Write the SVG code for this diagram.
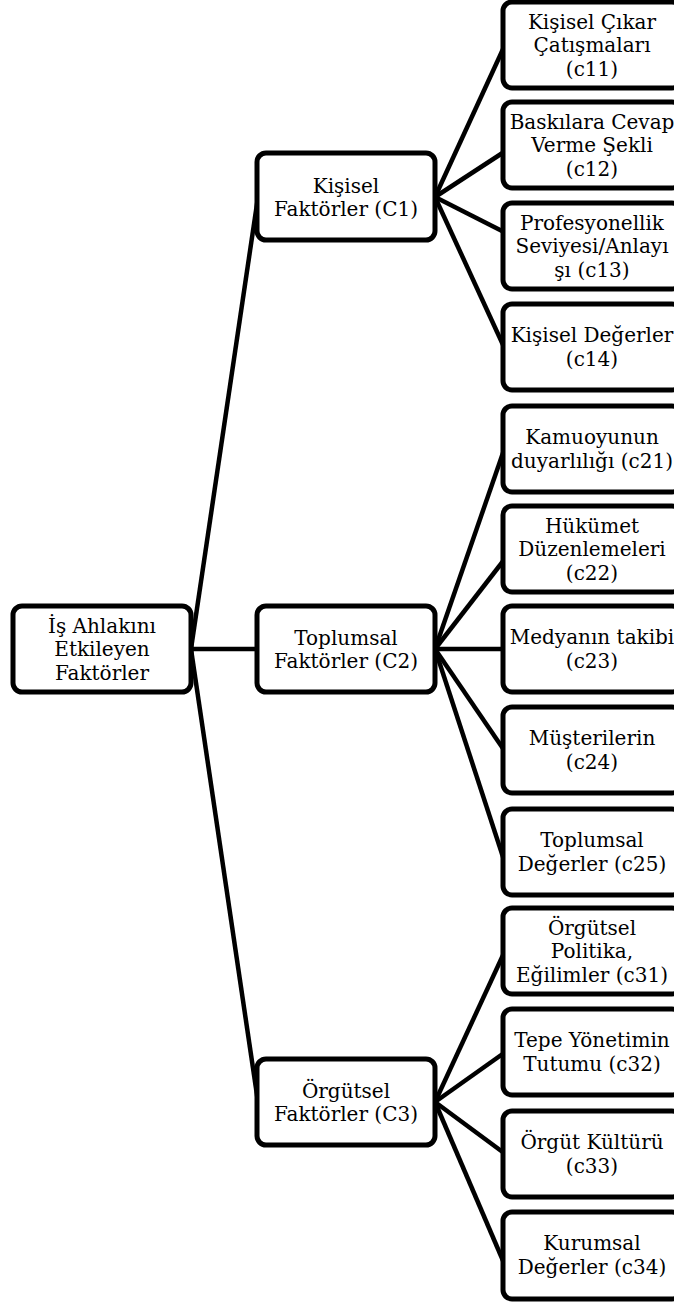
<svg xmlns="http://www.w3.org/2000/svg" width="674" height="1302" viewBox="0 0 674 1302">
<style>
.box{fill:#fff;stroke:#000;stroke-width:5}
.c line{stroke:#000;stroke-width:4.5}
text{font-family:"DejaVu Serif","Liberation Serif",serif;font-size:20px;fill:#000;text-anchor:middle}
</style>
<rect width="674" height="1302" fill="#fff"/>
<g id="connectors" class="c">
<line x1="191" y1="649" x2="258" y2="197"/>
<line x1="191" y1="649" x2="258" y2="649"/>
<line x1="191" y1="649" x2="258" y2="1102"/>
<line x1="435" y1="197" x2="504" y2="47"/>
<line x1="435" y1="197" x2="504" y2="152"/>
<line x1="435" y1="197" x2="504" y2="232"/>
<line x1="435" y1="197" x2="504" y2="347"/>
<line x1="435" y1="649" x2="504" y2="450"/>
<line x1="435" y1="649" x2="504" y2="560"/>
<line x1="435" y1="649" x2="504" y2="649"/>
<line x1="435" y1="649" x2="504" y2="750"/>
<line x1="435" y1="649" x2="504" y2="860"/>
<line x1="435" y1="1102" x2="504" y2="953"/>
<line x1="435" y1="1102" x2="504" y2="1053"/>
<line x1="435" y1="1102" x2="504" y2="1153"/>
<line x1="435" y1="1102" x2="504" y2="1263"/>
</g>
<g id="root"><rect class="box" x="13" y="606" width="178" height="86" rx="9"/><text><tspan x="102" y="632.5">İş Ahlakını</tspan><tspan x="102" y="656">Etkileyen</tspan><tspan x="102" y="679.5">Faktörler</tspan></text></g>
<g id="C1"><rect class="box" x="257" y="153" width="178" height="87" rx="9"/><text><tspan x="346" y="192.5">Kişisel</tspan><tspan x="346" y="216">Faktörler (C1)</tspan></text></g>
<g id="C2"><rect class="box" x="257" y="606" width="178" height="86" rx="9"/><text><tspan x="346" y="644.5">Toplumsal</tspan><tspan x="346" y="668">Faktörler (C2)</tspan></text></g>
<g id="C3"><rect class="box" x="257" y="1059" width="178" height="86" rx="9"/><text><tspan x="346" y="1097.5">Örgütsel</tspan><tspan x="346" y="1121">Faktörler (C3)</tspan></text></g>
<g id="c11"><rect class="box" x="503" y="2" width="178" height="86" rx="9"/><text><tspan x="592" y="28.5">Kişisel Çıkar</tspan><tspan x="592" y="52">Çatışmaları</tspan><tspan x="592" y="75.5">(c11)</tspan></text></g>
<g id="c12"><rect class="box" x="503" y="102" width="178" height="86" rx="9"/><text><tspan x="592" y="128.5">Baskılara Cevap</tspan><tspan x="592" y="152">Verme Şekli</tspan><tspan x="592" y="175.5">(c12)</tspan></text></g>
<g id="c13"><rect class="box" x="503" y="203" width="178" height="86" rx="9"/><text><tspan x="592" y="229.5">Profesyonellik</tspan><tspan x="592" y="253">Seviyesi/Anlayı</tspan><tspan x="592" y="276.5">şı (c13)</tspan></text></g>
<g id="c14"><rect class="box" x="503" y="304" width="178" height="86" rx="9"/><text><tspan x="592" y="342.25">Kişisel Değerler</tspan><tspan x="592" y="365.75">(c14)</tspan></text></g>
<g id="c21"><rect class="box" x="503" y="406" width="178" height="86" rx="9"/><text><tspan x="592" y="444.25">Kamuoyunun</tspan><tspan x="592" y="467.75">duyarlılığı (c21)</tspan></text></g>
<g id="c22"><rect class="box" x="503" y="506" width="178" height="86" rx="9"/><text><tspan x="592" y="532.5">Hükümet</tspan><tspan x="592" y="556">Düzenlemeleri</tspan><tspan x="592" y="579.5">(c22)</tspan></text></g>
<g id="c23"><rect class="box" x="503" y="606" width="178" height="86" rx="9"/><text><tspan x="592" y="644.25">Medyanın takibi</tspan><tspan x="592" y="667.75">(c23)</tspan></text></g>
<g id="c24"><rect class="box" x="503" y="707" width="178" height="86" rx="9"/><text><tspan x="592" y="745.25">Müşterilerin</tspan><tspan x="592" y="768.75">(c24)</tspan></text></g>
<g id="c25"><rect class="box" x="503" y="809" width="178" height="86" rx="9"/><text><tspan x="592" y="847.25">Toplumsal</tspan><tspan x="592" y="870.75">Değerler (c25)</tspan></text></g>
<g id="c31"><rect class="box" x="503" y="908" width="178" height="86" rx="9"/><text><tspan x="592" y="934.5">Örgütsel</tspan><tspan x="592" y="958">Politika,</tspan><tspan x="592" y="981.5">Eğilimler (c31)</tspan></text></g>
<g id="c32"><rect class="box" x="503" y="1009" width="178" height="86" rx="9"/><text><tspan x="592" y="1047.25">Tepe Yönetimin</tspan><tspan x="592" y="1070.75">Tutumu (c32)</tspan></text></g>
<g id="c33"><rect class="box" x="503" y="1111" width="178" height="86" rx="9"/><text><tspan x="592" y="1149.25">Örgüt Kültürü</tspan><tspan x="592" y="1172.75">(c33)</tspan></text></g>
<g id="c34"><rect class="box" x="503" y="1212" width="178" height="87" rx="9"/><text><tspan x="592" y="1250.25">Kurumsal</tspan><tspan x="592" y="1273.75">Değerler (c34)</tspan></text></g>
</svg>
